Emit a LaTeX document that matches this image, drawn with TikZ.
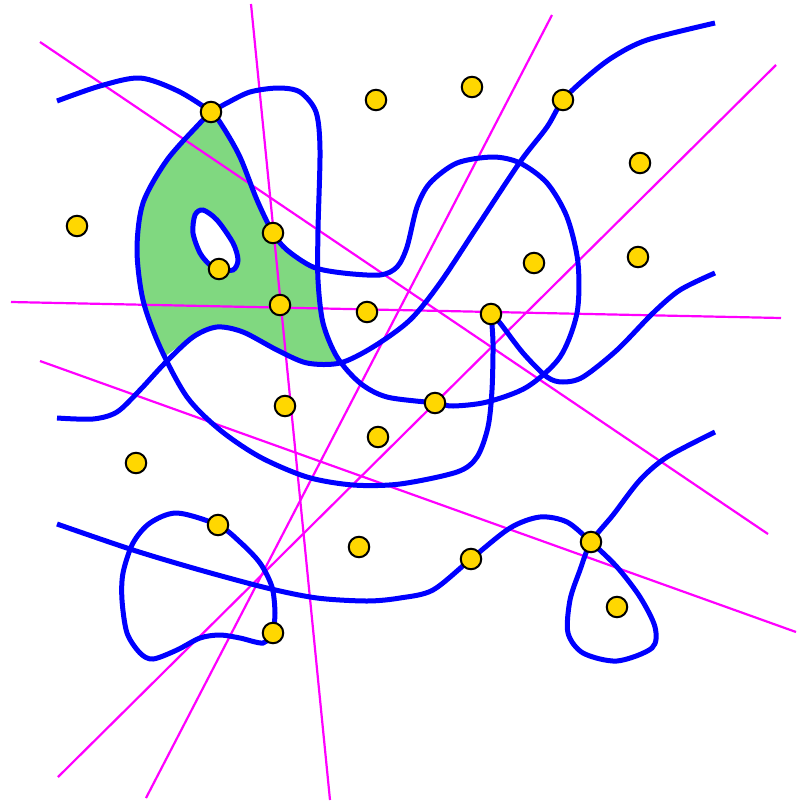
\documentclass[tikz,border=0pt]{standalone}
\usepackage{tikz}
\usetikzlibrary{calc}
\definecolor{gold}{RGB}{255,215,0}
\definecolor{leaf}{RGB}{128,216,128}
\definecolor{wireblue}{RGB}{0,0,255}
\definecolor{cutpink}{RGB}{255,0,255}
\tikzstyle{site} = [draw,circle,fill=gold,line width=2pt,inner sep=0mm,minimum size=20.5pt]
\tikzstyle{bluecurve} = [draw=wireblue,line width=5pt]
\tikzstyle{cutline} = [draw=cutpink,line width=2.2pt]

\begin{document}
\begin{tikzpicture}[x=1pt,y=-1pt]
\useasboundingbox (0,0) rectangle (796,801);
% sample points
\coordinate (p1) at (211,112);
\coordinate (p2) at (376,100);
\coordinate (p3) at (472,87);
\coordinate (p4) at (563,100);
\coordinate (p5) at (640,163);
\coordinate (p6) at (77,226);
\coordinate (p7) at (273,233);
\coordinate (p8) at (219,269);
\coordinate (p9) at (534,263);
\coordinate (p10) at (638,257);
\coordinate (p11) at (280,305);
\coordinate (p12) at (367,312);
\coordinate (p13) at (491,314);
\coordinate (p14) at (285,406);
\coordinate (p15) at (435,403);
\coordinate (p16) at (378,437);
\coordinate (p17) at (136,463);
\coordinate (p18) at (218,525);
\coordinate (p19) at (359,547);
\coordinate (p20) at (471,559);
\coordinate (p21) at (591,542);
\coordinate (p22) at (617,607);
\coordinate (p23) at (273,633);

% shaded face
\fill[leaf,even odd rule] (p1) -- plot[smooth] coordinates {(p1) (223,127) (240,157) (257,200) (p7) (287,250) (305,263) (318,269)}
  -- plot[smooth] coordinates {(318,269) (318,280) (323,323) (338,362)}
  -- plot[smooth] coordinates {(338,362) (307,363) (277,350) (243,332) (217,327) (193,337) (164,357)}
  -- plot[smooth] coordinates {(164,357) (143,300) (137,250) (143,203) (167,160) (200,123) (p1)} -- cycle
  plot[smooth cycle] coordinates {(p8) (233,270) (238,260) (233,243) (217,220) (203,210) (195,215) (193,233) (200,253) (210,265)};

% cutting lines
\draw[cutline] (40,42) -- (768,534);
\draw[cutline] (251,4) -- (330,800);
\draw[cutline] (11,302) -- (781,318);
\draw[cutline] (40,361) -- (796,632);
\draw[cutline] (552,15) -- (146,798);
\draw[cutline] (776,65) -- (58,777);

% curves
\draw[bluecurve] plot[smooth] coordinates {(57,101) (100,86) (140,78) (178,91) (p1) (223,127) (240,157) (257,200) (p7)
  (287,250) (313,267) (343,273) (380,275) (397,267) (407,247) (417,207) (430,183) (457,163) (493,157) (520,163)
  (547,183) (567,217) (578,263) (577,313) (560,357) (527,387) (487,402) (453,406) (p15) (387,397) (360,383)
  (337,357) (323,323) (318,280) (318,230) (320,150) (316,112) (300,92) (278,88) (250,92) (227,103) (p1)};
\draw[bluecurve] plot[smooth] coordinates {(p1) (200,123) (167,160) (143,203) (137,250) (143,300) (160,347)
  (187,397) (220,430) (260,457) (307,477) (353,485) (400,484) (457,472) (477,457) (488,427) (492,390) (493,343) (p13)};
\draw[bluecurve] plot[smooth] coordinates {(p13) (500,323) (523,353) (547,377) (563,382) (583,377) (617,350)
  (653,313) (680,290) (715,273)};
\draw[bluecurve] plot[smooth] coordinates {(57,418) (93,419) (117,412) (140,390) (165,363) (193,337) (217,327)
  (243,332) (277,350) (307,363) (340,363) (373,347) (410,320) (440,283) (477,227) (520,162) (547,127) (p4)
  (587,77) (613,57) (647,40) (715,23)};
\draw[bluecurve] plot[smooth cycle] coordinates {(p8) (233,270) (238,260) (233,243) (217,220) (203,210) (195,215)
  (193,233) (200,253) (210,265)};
\draw[bluecurve] plot[smooth] coordinates {(57,524) (133,550) (200,570) (267,588) (317,598) (367,601) (400,598)
  (433,590) (p20) (510,528) (540,517) (567,522) (p21) (617,567) (640,597) (655,627) (652,648) (617,661)
  (583,653) (568,633) (570,600) (580,570) (p21) (613,515) (640,480) (667,457) (715,432)};
\draw[bluecurve] plot[smooth] coordinates {(p23) (275,613) (272,587) (260,563) (240,542) (p18) (177,513)
  (150,523) (133,543) (123,573) (122,600) (127,633) (140,653) (153,659) (177,650) (200,638) (220,635)
  (240,638) (263,643) (p23)};

% points on top
\foreach \i in {1,...,23} \node[site] (s\i) at (p\i) {};
\end{tikzpicture}
\end{document}
